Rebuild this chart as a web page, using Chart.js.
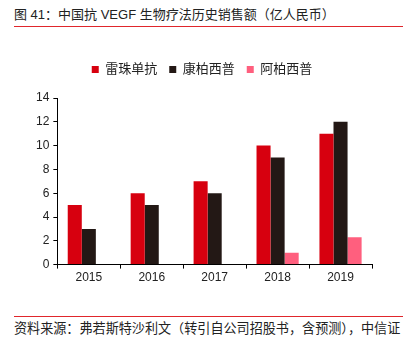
<!DOCTYPE html>
<html>
<head>
<meta charset="utf-8">
<script src="https://cdn.jsdelivr.net/npm/chart.js@4/dist/chart.umd.min.js"></script>
<style>
  body { margin: 0; background: #fff; width: 412px; height: 340px; position: relative; overflow: hidden;
         font-family: "Liberation Sans", "Noto Sans CJK SC", sans-serif; }
  #title { position: absolute; left: 14px; top: 7px; width: 389px; font-size: 13px; color: #222;
           border-bottom: 1px solid #e0262c; padding-bottom: 3px; line-height: 16px; }
  #source { position: absolute; left: 14px; top: 316px; width: 389px; font-size: 13.1px; color: #222;
            border-top: 1px solid #e0262c; padding-top: 4px; line-height: 16px; white-space: nowrap; }
  #wrap { position: absolute; left: 0; top: 48px; width: 412px; height: 244px; }
</style>
</head>
<body>
<div id="title">图 41：中国抗 VEGF 生物疗法历史销售额（亿人民币）</div>
<div id="wrap"><canvas id="salesChart"></canvas></div>
<div id="source">资料来源：弗若斯特沙利文（转引自公司招股书，含预测），中信证</div>
<script>
  const years = ['2015', '2016', '2017', '2018', '2019'];
  const ranibizumab = [5, 6, 7, 10, 11];
  const conbercept = [3, 5, 6, 9, 12];
  const aflibercept = [null, null, null, 1, 2.3];

  const fontFamily = '"Liberation Sans", "Noto Sans CJK SC", sans-serif';

  // push the plot down a bit below the legend
  const legendMargin = {
    id: 'legendMargin',
    beforeInit(chart) {
      const fit = chart.legend.fit;
      chart.legend.fit = function () {
        fit.bind(chart.legend)();
        this.height += 12;
      };
    }
  };

  const salesChart = new Chart(document.getElementById('salesChart'), {
    type: 'bar',
    data: {
      labels: years,
      datasets: [
        { label: '雷珠单抗', data: ranibizumab, backgroundColor: '#d7000f' },
        { label: '康柏西普', data: conbercept, backgroundColor: '#231815' },
        { label: '阿柏西普', data: aflibercept, backgroundColor: '#ff5f7e' }
      ]
    },
    options: {
      responsive: true,
      maintainAspectRatio: false,
      animation: false,
      datasets: { bar: { categoryPercentage: 0.67, barPercentage: 1 } },
      layout: { padding: { left: 32, right: 40, top: 3, bottom: 5 } },
      plugins: {
        legend: {
          position: 'top',
          labels: {
            boxWidth: 7, boxHeight: 7, padding: 12,
            color: '#222',
            font: { family: fontFamily, size: 13 }
          }
        },
        tooltip: { enabled: false }
      },
      scales: {
        x: {
          grid: { display: true, drawOnChartArea: false, offset: true, tickLength: 4, color: '#000' },
          border: { color: '#000', width: 1 },
          ticks: { color: '#222', font: { family: fontFamily, size: 12 }, padding: 2 }
        },
        y: {
          min: 0, max: 14,
          grid: { display: true, drawOnChartArea: false, tickLength: 4, color: '#000' },
          border: { color: '#000', width: 1 },
          ticks: { stepSize: 2, color: '#222', font: { family: fontFamily, size: 12 }, padding: 4 }
        }
      }
    },
    plugins: [legendMargin]
  });
</script>
</body>
</html>
